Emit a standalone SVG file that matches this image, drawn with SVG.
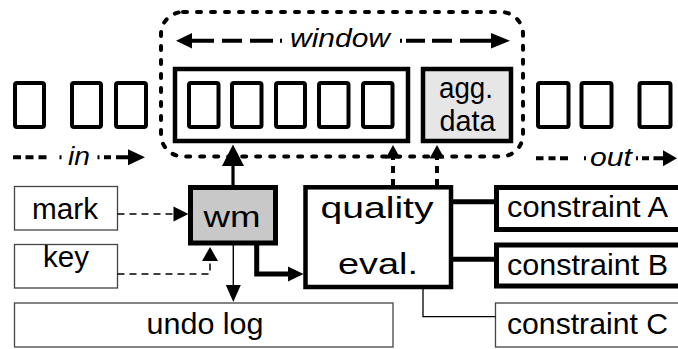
<svg xmlns="http://www.w3.org/2000/svg" width="678" height="349" viewBox="0 0 678 349">
<style>
text{font-family:"Liberation Sans",Arial,sans-serif;fill:#000}
.it{font-style:italic;font-size:25px}
.lbl{font-size:30px;text-anchor:middle}
.sq{fill:#fff;stroke:#000;stroke-width:4}
.thick{fill:#fff;stroke:#000;stroke-width:4.5}
.thin{fill:#fff;stroke:#444;stroke-width:1.3}
.ln{fill:none;stroke:#000}
.ah{fill:#000;stroke:none}
</style>
<rect width="678" height="349" fill="#fff"/>

<g id="stream-left">
<rect class="sq" x="15" y="83" width="29" height="44" rx="2"/>
<rect class="sq" x="72" y="83" width="29" height="44" rx="2"/>
<rect class="sq" x="116" y="83" width="30" height="44" rx="2"/>
</g>
<g id="window-frame">
<rect x="161" y="12" width="362" height="144.5" rx="22" fill="none" stroke="#000" stroke-width="4" stroke-dasharray="4 10" stroke-linecap="round"/>
</g>
<g id="window">
<rect class="thick" x="175" y="69" width="233" height="72"/>
<rect class="sq" x="189" y="83" width="29.5" height="44" rx="2"/>
<rect class="sq" x="232" y="83" width="29.5" height="44" rx="2"/>
<rect class="sq" x="276" y="83" width="29" height="44" rx="2"/>
<rect class="sq" x="319" y="83" width="29.5" height="44" rx="2"/>
<rect class="sq" x="363" y="83" width="29.5" height="44" rx="2"/>
</g>
<g id="agg">
<rect x="423" y="69" width="88" height="72" fill="#e6e6e6" stroke="#000" stroke-width="4.5"/>
<text class="lbl" x="466" y="98" textLength="54" lengthAdjust="spacingAndGlyphs">agg.</text>
<text class="lbl" x="467.5" y="131" textLength="56" lengthAdjust="spacingAndGlyphs">data</text>
</g>
<g id="stream-right">
<rect class="sq" x="538" y="83" width="30.5" height="44" rx="2"/>
<rect class="sq" x="581.5" y="83" width="30" height="44" rx="2"/>
<rect class="sq" x="639.5" y="83" width="31" height="44" rx="2"/>
</g>

<g id="labels-arrows">
<path class="ln" stroke-width="4" d="M192 40.7H214M222 40.7H242M250 40.7H273M280 40.7H282M400 40.7H402M406 40.7H425M432 40.7H452M460 40.7H492"/>
<polygon class="ah" points="176,40.7 192,33 192,48.4"/>
<polygon class="ah" points="510,40.7 491,33 491,48.4"/>
<text class="it" x="290" y="47" textLength="100" lengthAdjust="spacingAndGlyphs">window</text>

<path class="ln" stroke-width="4" d="M13 157.3H21M25.5 157.3H33.5M38.5 157.3H46.5M59.5 157.3H61.5M97.5 157.3H99.5M104 157.3H111M116 157.3H128"/>
<polygon class="ah" points="145,157.3 128,149.3 128,165.3"/>
<text class="it" x="68" y="165" textLength="22" lengthAdjust="spacingAndGlyphs">in</text>

<path class="ln" stroke-width="4" d="M536 158.3H543.5M548.5 158.3H555.5M560 158.3H568M584 158.3H586M636 158.3H638M642 158.3H649M653.5 158.3H663"/>
<polygon class="ah" points="677,158.3 663,150.3 663,166.3"/>
<text class="it" x="590" y="166" textLength="42" lengthAdjust="spacingAndGlyphs">out</text>
</g>

<g id="mark">
<rect class="thin" x="14.5" y="186.5" width="103" height="43.5"/>
<text class="lbl" x="65" y="218.5" textLength="66" lengthAdjust="spacingAndGlyphs">mark</text>
</g>
<g id="key">
<rect class="thin" x="14.5" y="244.5" width="103" height="43.5"/>
<text class="lbl" x="66" y="267" textLength="46" lengthAdjust="spacingAndGlyphs">key</text>
</g>
<g id="wm">
<rect x="190.5" y="187.5" width="85" height="55.5" fill="#c8c8c8" stroke="#000" stroke-width="5"/>
<text class="lbl" x="232" y="227" font-size="38" textLength="57" lengthAdjust="spacingAndGlyphs">wm</text>
</g>
<g id="quality">
<rect class="thick" x="305.5" y="187.3" width="145.5" height="99.7"/>
<text class="lbl" x="377" y="218" font-size="38" textLength="113" lengthAdjust="spacingAndGlyphs">quality</text>
<text class="lbl" x="378" y="274" font-size="38" textLength="80" lengthAdjust="spacingAndGlyphs">eval.</text>
</g>
<g id="constraintA">
<rect x="496.5" y="187.5" width="200" height="42" fill="#fff" stroke="#000" stroke-width="5"/>
<text x="507" y="217" font-size="30" textLength="161" lengthAdjust="spacingAndGlyphs">constraint A</text>
</g>
<g id="constraintB">
<rect x="496.5" y="245" width="200" height="41" fill="#fff" stroke="#000" stroke-width="5"/>
<text x="507" y="275" font-size="30" textLength="161" lengthAdjust="spacingAndGlyphs">constraint B</text>
</g>
<g id="constraintC">
<rect class="thin" x="495.5" y="303" width="200" height="44"/>
<text x="507" y="334" font-size="30" textLength="161" lengthAdjust="spacingAndGlyphs">constraint C</text>
</g>
<g id="undolog">
<rect class="thin" x="14.5" y="303" width="378.5" height="44"/>
<text class="lbl" x="205" y="334" textLength="117" lengthAdjust="spacingAndGlyphs">undo log</text>
</g>

<g id="connectors">
<line class="ln" x1="233" y1="187" x2="233" y2="165" stroke-width="3.2"/>
<polygon class="ah" points="233,144.5 222,166 244,166"/>
<line class="ln" x1="393" y1="186" x2="393" y2="158" stroke-width="4" stroke-dasharray="7 6"/>
<polygon class="ah" points="393,145 385.5,158.5 400.5,158.5"/>
<line class="ln" x1="437" y1="186" x2="437" y2="158" stroke-width="4" stroke-dasharray="7 6"/>
<polygon class="ah" points="437,145 429.5,158.5 444.5,158.5"/>
<line class="ln" x1="233.3" y1="245" x2="233.3" y2="286" stroke-width="1.4"/>
<polygon class="ah" points="233.3,302 225.8,285 240.8,285"/>
<path class="ln" d="M256.7 245V274H289" stroke-width="5"/>
<polygon class="ah" points="303.5,274 288,266.5 288,281.5"/>
<line class="ln" x1="117.5" y1="214" x2="174" y2="214" stroke="#555" stroke-width="1.4" stroke-dasharray="7 5"/>
<polygon class="ah" points="188.5,214 173.5,206.5 173.5,221.5"/>
<path class="ln" d="M117.5 274H210V261" stroke-width="1.5" stroke-dasharray="7 5"/>
<polygon class="ah" points="210,247 202,261 218,261"/>
<line class="ln" x1="453" y1="201.7" x2="494" y2="201.7" stroke-width="5"/>
<line class="ln" x1="453" y1="259.3" x2="494" y2="259.3" stroke-width="5"/>
<path class="ln" d="M423 289V316.7H495.5" stroke="#444" stroke-width="1.3"/>
</g>
</svg>
